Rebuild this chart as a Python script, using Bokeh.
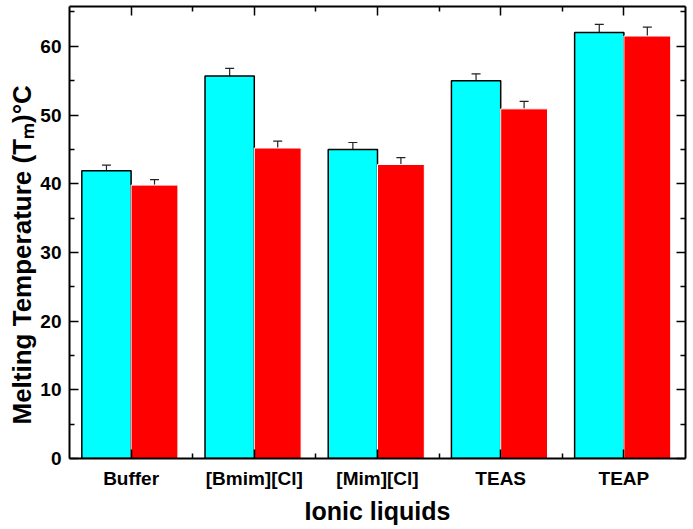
from bokeh.plotting import figure
from bokeh.models import (ColumnDataSource, Range1d, FixedTicker, LinearAxis,
                          Whisker, TeeHead, CustomJSTickFormatter, Title)
from bokeh.embed import file_html
from bokeh.resources import INLINE

categories = ["Buffer", "[Bmim][Cl]", "[Mim][Cl]", "TEAS", "TEAP"]
series_a = [41.9, 55.7, 45.0, 55.0, 62.0]      # cyan
series_a_err = [0.8, 1.1, 1.0, 1.0, 1.2]
series_b = [39.8, 45.2, 42.8, 50.9, 61.5]      # red
series_b_err = [0.8, 1.0, 1.0, 1.1, 1.3]
y_ticks = [0, 10, 20, 30, 40, 50, 60]
y_title = "Melting Temperature (Tₘ)°C"
x_title = "Ionic liquids"

pos = list(range(1, len(categories) + 1))
src_a = ColumnDataSource(dict(x=[p_ - 0.2 for p_ in pos], top=series_a,
                              upper=[v + e for v, e in zip(series_a, series_a_err)],
                              lower=[v - e for v, e in zip(series_a, series_a_err)]))
src_b = ColumnDataSource(dict(x=[p_ + 0.19 for p_ in pos], top=series_b,
                              upper=[v + e for v, e in zip(series_b, series_b_err)],
                              lower=[v - e for v, e in zip(series_b, series_b_err)]))

FONT = "Liberation Sans"

p = figure(width=689, height=527, output_backend="svg", toolbar_location=None,
           x_range=Range1d(0.5, 5.5), y_range=Range1d(0, 65.8),
           min_border_left=69, min_border_right=4, min_border_top=6, min_border_bottom=0)
p.background_fill_color = "white"
p.border_fill_color = "white"
p.outline_line_color = None
p.xgrid.visible = False
p.ygrid.visible = False

p.vbar(x="x", top="top", width=0.4, source=src_a, fill_color="#00FFFF",
       line_color="black", line_width=1.5)
p.vbar(x="x", top="top", width=0.38, source=src_b, fill_color="#FF0000",
       line_color="white", line_width=1)

for s in (src_a, src_b):
    w = Whisker(source=s, base="x", upper="upper", lower="lower",
                line_color="#222222", line_width=1.2,
                upper_head=TeeHead(size=9, line_color="#222222", line_width=1.2),
                lower_head=TeeHead(size=9, line_color="#222222", line_width=1.2))
    p.add_layout(w)

xt = FixedTicker(ticks=pos, minor_ticks=[1.5, 2.5, 3.5, 4.5])
yt = FixedTicker(ticks=y_ticks, minor_ticks=[5, 15, 25, 35, 45, 55, 65])

def style(ax):
    ax.axis_line_width = 2
    ax.axis_line_color = "black"
    ax.major_tick_in = 9
    ax.major_tick_out = 0
    ax.minor_tick_in = 5
    ax.minor_tick_out = 0
    ax.major_tick_line_width = 1.5
    ax.minor_tick_line_width = 1.5
    ax.major_label_text_font = FONT
    ax.major_label_text_font_style = "bold"
    ax.major_label_text_font_size = "19px"
    ax.major_label_text_color = "black"
    ax.axis_label_text_font = FONT
    ax.axis_label_text_font_style = "bold"
    ax.axis_label_text_color = "black"

p.xaxis.ticker = xt
p.xaxis.major_label_overrides = {i + 1: c for i, c in enumerate(categories)}
p.xaxis.axis_label = x_title
p.yaxis.ticker = yt
style(p.xaxis[0])
style(p.yaxis[0])
p.xaxis.major_label_standoff = 9
p.xaxis.axis_label_text_font_size = "25px"
p.xaxis.axis_label_standoff = 5
p.yaxis.major_label_standoff = 8

blank = CustomJSTickFormatter(code="return ''")
top_ax = LinearAxis(ticker=xt, formatter=blank)
style(top_ax)
top_ax.major_label_standoff = 0
p.add_layout(top_ax, "above")
right_ax = LinearAxis(ticker=yt, formatter=blank)
style(right_ax)
right_ax.major_label_standoff = 0
p.add_layout(right_ax, "right")

ytitle = Title(text=y_title, align="left", offset=34, standoff=2,
               text_font=FONT, text_font_style="bold", text_font_size="26px",
               text_color="black")
p.add_layout(ytitle, "left")

open("out.html", "w").write(file_html(p, INLINE))
